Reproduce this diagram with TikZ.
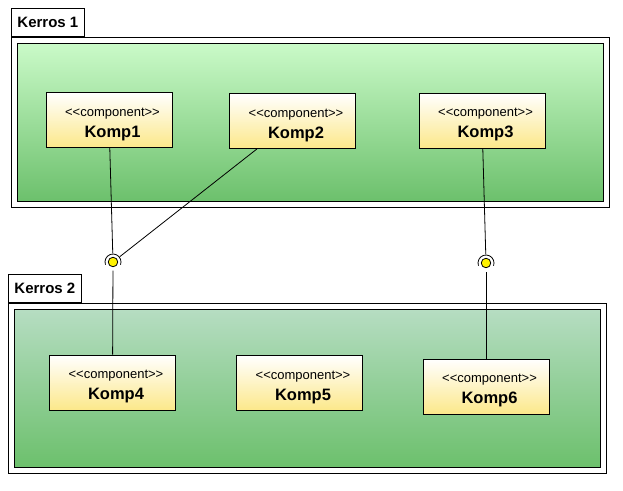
\documentclass[tikz,border=0pt]{standalone}
\usepackage{fontspec}
\newfontfamily\arialfont{Liberation Sans}
\usepackage{tikz}
\usetikzlibrary{positioning}
\definecolor{vihrea1}{HTML}{CAFAC8}
\definecolor{vihrea2}{HTML}{B6DDC2}
\definecolor{vihreatumma}{HTML}{6CC06C}
\definecolor{keltainen}{HTML}{FCE88A}

\begin{document}
\begin{tikzpicture}[x=1pt, y=-1pt,
  kerros/.style={draw=black, line width=0.8pt, fill=white, anchor=north west,
                 minimum width=598pt, minimum height=170pt, inner sep=0pt},
  valilehti/.style={draw=black, line width=0.8pt, fill=white, anchor=south west,
                    minimum width=73pt, minimum height=28pt, inner sep=0pt,
                    font=\arialfont\fontsize{15}{18}\selectfont\bfseries},
  sisus/.style={draw=black, line width=0.8pt, bottom color=vihreatumma,
                minimum width=586pt, minimum height=158pt, inner sep=0pt},
  komp/.style={draw=black, line width=0.8pt, top color=white, bottom color=keltainen,
               minimum width=126pt, minimum height=55pt, inner sep=0pt, align=center},
  pallo/.style={circle, draw=black, line width=0.8pt, fill=yellow,
                minimum size=9.5pt, inner sep=0pt},
  kanta/.style={circle, minimum size=17pt, inner sep=0pt},
  yhteys/.style={draw=black, line width=0.8pt}
]
\useasboundingbox (0,0) rectangle (623,490);
\newcommand{\kompteksti}[1]{\hspace*{7pt}\rule{0pt}{17pt}{\arialfont\fontsize{13}{16}\selectfont <{}<component>{}>}\\[6pt]
  \hspace*{7pt}{\arialfont\fontsize{16.5}{18}\selectfont\bfseries #1}}

\node[kerros] (ker1) at (11,37) {};
\node[valilehti] (tab1) at (ker1.north west) {Kerros 1};
\node[sisus, top color=vihrea1] (sis1) at (ker1.center) {};

\node[kerros] (ker2) at (8,303) {};
\node[valilehti] (tab2) at (ker2.north west) {Kerros 2};
\node[sisus, top color=vihrea2] (sis2) at (ker2.center) {};

\node[komp] (k1) at (109,120) {\kompteksti{Komp1}};
\node[komp] (k2) at (292.5,121) {\kompteksti{Komp2}};
\node[komp] (k3) at (482,120.5) {\kompteksti{Komp3}};
\node[komp] (k4) at (112.5,382.5) {\kompteksti{Komp4}};
\node[komp] (k5) at (299.5,383) {\kompteksti{Komp5}};
\node[komp] (k6) at (486,386.5) {\kompteksti{Komp6}};

\node[kanta] (s1) at (113,262) {};
\node[kanta] (s2) at (486,263) {};
\node[pallo] (p1) at (s1) {};
\node[pallo] (p2) at (s2) {};
\draw[yhteys] ([shift={(200:8pt)}]s1.center) arc[start angle=200, end angle=-20, radius=8pt];
\draw[yhteys] ([shift={(200:8pt)}]s2.center) arc[start angle=200, end angle=-20, radius=8pt];

\draw[yhteys] (k1) -- (s1);
\draw[yhteys] (k2) -- (s1);
\draw[yhteys] (k4) -- (s1);
\draw[yhteys] (k3) -- (s2);
\draw[yhteys] (k6) -- (s2);
\end{tikzpicture}
\end{document}
